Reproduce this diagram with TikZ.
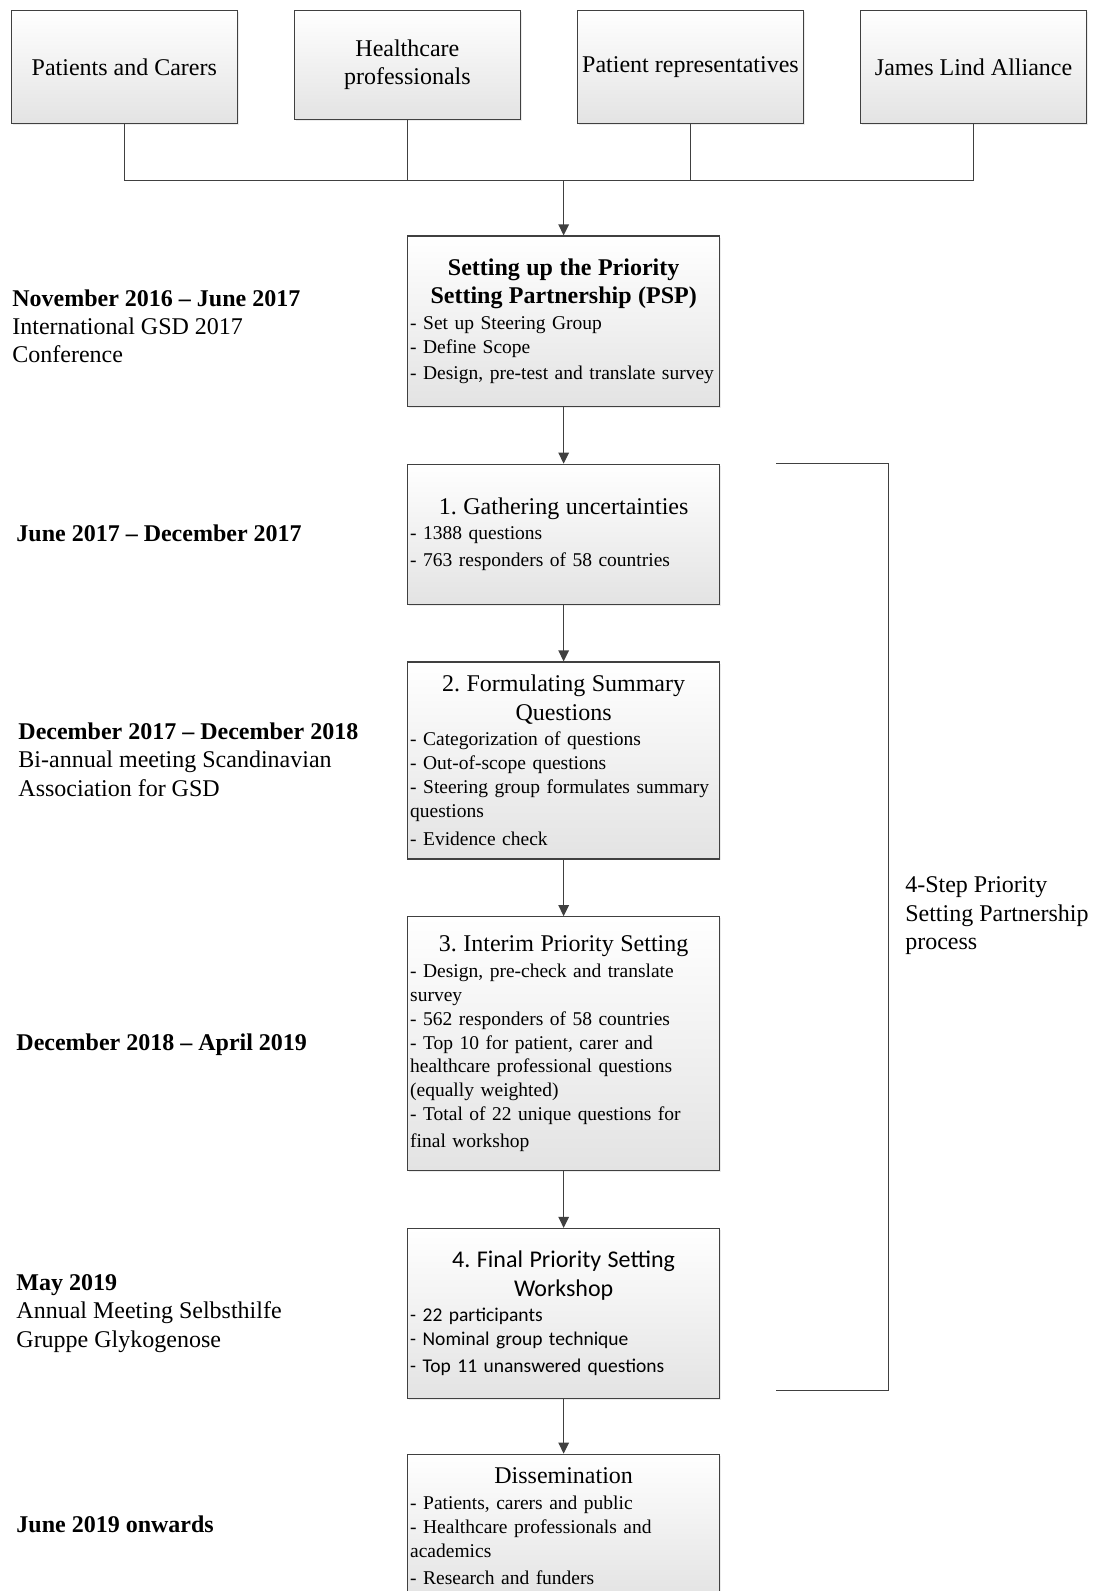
\documentclass[tikz,border=0pt]{standalone}
\usepackage{fontspec}
\setmainfont{Liberation Serif}
\newfontfamily\calibri{Carlito}
\frenchspacing
\usetikzlibrary{positioning, arrows.meta, shadows}
\tikzset{
    x=1.0149pt, y=-1.0149pt, % one unit per pixel, y downwards
    >={Triangle[width=10.5pt,length=11pt]}, % filled arrow heads
    link/.style={draw=black!75, line width=1.2pt}, % every connector
    flowbox/.style={draw=black!75, line width=1.2pt, top color=white, bottom color=black!11,
        drop shadow={opacity=0.15, shadow xshift=1.5pt, shadow yshift=-1.5pt}}, % look of all boxes
    srcbox/.style={flowbox, minimum width=226.3pt, minimum height=113.7pt, align=center,
        font=\fontsize{24}{28.4}\selectfont}, % the four boxes on top
    stepbox/.style={flowbox, minimum width=311.6pt, text width=307pt, inner xsep=2.3pt,
        inner ysep=0pt, align=left, font=\fontsize{19.5}{23.9}\selectfont}, % boxes of the main column
    datelbl/.style={anchor=north west, inner sep=0pt, align=left,
        font=\fontsize{24}{28.4}\selectfont}, % texts beside the column
    node distance=56.6pt, % gap between two boxes of the column
}
\newcommand{\steptitle}[1]{{\centering\fontsize{24}{28.4}\selectfont #1\par}\vspace{1.8pt}}

\begin{document}
\begin{tikzpicture}
    \useasboundingbox (0,0) rectangle (1077,1568);
    \clip (0,0) rectangle (1077,1568);
    % who takes part
    \node[srcbox] (pc) at (122.5,66) {Patients and Carers};
    \node[srcbox, minimum height=109.6pt] (hp) at (401.5,64) {Healthcare\\professionals};
    \node[srcbox] (pr) at (680.5,66) {Patient representatives};
    \node[srcbox] (jla) at (959.5,66) {James Lind Alliance};
    \coordinate (join) at (555.5,178);
    % main column
    \node[stepbox, minimum height=170.5pt, anchor=north] (psp) at (555.5,232)
        {\steptitle{\bfseries Setting up the Priority\\Setting Partnership (PSP)}%
        - Set up Steering Group\\- Define Scope\\[2pt]- Design, pre-test and translate survey};
    \node[stepbox, minimum height=140pt, below=of psp] (s1)
        {\steptitle{1. Gathering uncertainties}%
        - 1388 questions\\[3pt]- 763 responders of 58 countries};
    \node[stepbox, minimum height=197pt, below=of s1] (s2)
        {\steptitle{2. Formulating Summary\\Questions}%
        - Categorization of questions\\- Out-of-scope questions\\- Steering group formulates summary\\questions\\[4pt]- Evidence check};
    \node[stepbox, minimum height=254pt, below=of s2] (s3)
        {\steptitle{3. Interim Priority Setting}%
        - Design, pre-check and translate\\survey\\- 562 responders of 58 countries\\- Top 10 for patient, carer and\\healthcare professional questions\\(equally weighted)\\- Total of 22 unique questions for\\[3pt]final workshop};
    \node[stepbox, minimum height=170pt, below=of s3, font=\calibri\fontsize{19.5}{23.9}\selectfont] (s4)
        {\steptitle{4. Final Priority Setting\\Workshop}%
        - 22 participants\\- Nominal group technique\\[3pt]- Top 11 unanswered questions};
    \node[stepbox, minimum height=144pt, below=54.6pt of s4] (dis)
        {\steptitle{Dissemination}%
        - Patients, carers and public\\- Healthcare professionals and\\academics\\[3pt]- Research and funders};
    % connectors
    \draw[link] (pc.south) |- (join) -| (jla.south);
    \draw[link] (hp.south) -- (hp.south |- join);
    \draw[link] (pr.south) -- (pr.south |- join);
    \path
        (join) edge[link, ->] (psp)
        (psp) edge[link, ->] (s1)
        (s1) edge[link, ->] (s2)
        (s2) edge[link, ->] (s3)
        (s3) edge[link, ->] (s4)
        (s4) edge[link, ->] (dis);
    % bracket round the four steps
    \coordinate (brtop) at (765,457);
    \coordinate (brbot) at (765,1370);
    \draw[link] (brtop) -- ++(111,0) |- (brbot);
    \node[datelbl] (lbl) at (892,864) {4-Step Priority\\Setting Partnership\\process};
    % dates on the left
    \node[datelbl] (d0) at (12,285) {\textbf{November 2016 -- June 2017}\\International GSD 2017\\Conference};
    \node[datelbl] (d1) at (16,517) {\textbf{June 2017 -- December 2017}};
    \node[datelbl] (d2) at (18,712) {\textbf{December 2017 -- December 2018}\\Bi-annual meeting Scandinavian\\Association for GSD};
    \node[datelbl] (d3) at (16,1019) {\textbf{December 2018 -- April 2019}};
    \node[datelbl] (d4) at (16,1256) {\textbf{May 2019}\\Annual Meeting Selbsthilfe\\Gruppe Glykogenose};
    \node[datelbl] (d5) at (16,1494) {\textbf{June 2019 onwards}};
\end{tikzpicture}
\end{document}
